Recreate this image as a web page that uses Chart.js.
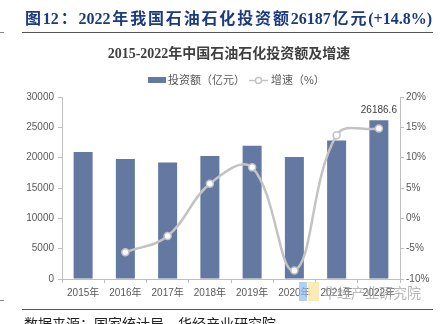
<!DOCTYPE html>
<html>
<head>
<meta charset="utf-8">
<script src="https://cdn.jsdelivr.net/npm/chart.js@4/dist/chart.umd.min.js"></script>
<style>
  html, body { margin: 0; padding: 0; background: #ffffff; }
  #wrap { width: 442px; height: 324px; position: relative; overflow: hidden; }
</style>
</head>
<body>
<div id="wrap"><canvas id="c" width="442" height="324"></canvas></div>
<script>
// 2015-2022 petrochemical investment (100 million yuan) and YoY growth (%)
const years = ['2015年', '2016年', '2017年', '2018年', '2019年', '2020年', '2021年', '2022年'];
const investment = [20950, 19780, 19200, 20280, 21980, 20090, 22810, 26186.6];
const growth = [null, -5.6, -2.9, 5.7, 8.4, -8.6, 13.7, 14.8];
const leftTicks = [0, 5000, 10000, 15000, 20000, 25000, 30000];
const rightTicks = [-10, -5, 0, 5, 10, 15, 20];

const headline = '图12：2022年我国石油石化投资额26187亿元(+14.8%)';
const chartTitle = '2015-2022年中国石油石化投资额及增速';
const legendBar = '投资额（亿元）';
const legendLine = '增速（%）';
const source = '数据来源：国家统计局，华经产业研究院';
const watermark = '华经产业研究院';

const BAR = '#6479a1';
const LINE = '#c3c3c3';
const AXIS = '#bfbfbf';
const TICK_TXT = '#595959';
const SANS = '"Liberation Sans", "Noto Sans CJK SC", sans-serif';

const isWide = ch => ch.charCodeAt(0) > 0x2e80;

const decor = {
  id: 'decor',
  beforeDraw(chart) {
    const ctx = chart.ctx;
    ctx.save();
    // headline: extra space only next to CJK glyphs, spread to the rule width
    ctx.fillStyle = '#1c3a7e';
    ctx.font = 'bold 16px "Liberation Serif", "Noto Sans CJK SC", serif';
    ctx.textBaseline = 'middle';
    ctx.textAlign = 'left';
    const chars = Array.from(headline);
    const hw = ctx.measureText(headline).width;
    let pairs = 0;
    for (let i = 0; i < chars.length - 1; i++) {
      if (isWide(chars[i]) || isWide(chars[i + 1])) pairs++;
    }
    const gap = Math.max(0, (407 - hw) / pairs);
    let hx = 25;
    chars.forEach((ch, i) => {
      ctx.fillText(ch, hx, 20);
      hx += ctx.measureText(ch).width;
      if (i < chars.length - 1 && (isWide(ch) || isWide(chars[i + 1]))) hx += gap;
    });
    // rules
    ctx.strokeStyle = '#555555';
    ctx.lineWidth = 1.2;
    ctx.beginPath();
    ctx.moveTo(22, 32.5); ctx.lineTo(433, 32.5);
    ctx.moveTo(22, 309.5); ctx.lineTo(433, 309.5);
    ctx.stroke();
    ctx.strokeStyle = '#888888';
    ctx.lineWidth = 1;
    ctx.beginPath();
    ctx.moveTo(0, 32.5); ctx.lineTo(4, 32.5);
    ctx.moveTo(0, 300.5); ctx.lineTo(4, 300.5);
    ctx.stroke();
    // chart title
    ctx.fillStyle = '#404040';
    ctx.font = 'bold 14px "Liberation Serif", "Noto Sans CJK SC", serif';
    ctx.textAlign = 'center';
    ctx.fillText(chartTitle, 229, 54);
    // legend
    ctx.font = '11px ' + SANS;
    ctx.textAlign = 'left';
    ctx.fillStyle = BAR;
    ctx.fillRect(148, 77, 18, 6);
    ctx.fillStyle = TICK_TXT;
    ctx.fillText(legendBar, 168, 80.5);
    ctx.strokeStyle = LINE;
    ctx.lineWidth = 1.5;
    ctx.beginPath();
    ctx.moveTo(249, 80.5); ctx.lineTo(268, 80.5);
    ctx.stroke();
    ctx.beginPath();
    ctx.arc(258.5, 80.5, 3, 0, Math.PI * 2);
    ctx.fillStyle = '#ffffff';
    ctx.fill();
    ctx.stroke();
    ctx.fillStyle = TICK_TXT;
    ctx.fillText(legendLine, 271, 80.5);
    // source note (partly below the frame)
    ctx.fillStyle = '#222222';
    ctx.font = '14px "Noto Sans CJK SC", sans-serif';
    ctx.textBaseline = 'top';
    ctx.fillText(source, 24, 317);
    ctx.restore();
  },
  afterDraw(chart) {
    const ctx = chart.ctx;
    ctx.save();
    // value label above the last bar
    const meta = chart.getDatasetMeta(1);
    const last = meta.data[meta.data.length - 1];
    ctx.fillStyle = '#404040';
    ctx.font = '10px ' + SANS;
    ctx.textAlign = 'center';
    ctx.textBaseline = 'middle';
    ctx.fillText(String(investment[investment.length - 1]), last.x, last.y - 10);
    // watermark
    ctx.globalAlpha = 0.7;
    ctx.fillStyle = '#8fbcf0';
    ctx.fillRect(299, 282, 8, 19);
    ctx.fillStyle = '#fbe39a';
    ctx.fillRect(308, 282, 11, 19);
    ctx.globalAlpha = 0.75;
    ctx.fillStyle = '#a0a0a0';
    ctx.font = '14px "Noto Sans CJK SC", sans-serif';
    ctx.textAlign = 'left';
    ctx.fillText(watermark, 323, 293);
    ctx.restore();
  }
};

new Chart(document.getElementById('c'), {
  data: {
    labels: years,
    datasets: [
      {
        type: 'line',
        label: legendLine,
        data: growth,
        yAxisID: 'y1',
        order: 0,
        borderColor: LINE,
        borderWidth: 2.5,
        tension: 0.4,
        pointRadius: 3.5,
        pointBackgroundColor: '#ffffff',
        pointBorderColor: LINE,
        pointBorderWidth: 1.5,
        spanGaps: false
      },
      {
        type: 'bar',
        label: legendBar,
        data: investment,
        yAxisID: 'y',
        order: 1,
        backgroundColor: BAR,
        categoryPercentage: 1,
        barPercentage: 0.45
      }
    ]
  },
  options: {
    responsive: false,
    animation: false,
    layout: { padding: { top: 97, left: 0, right: 0, bottom: 0 } },
    plugins: { legend: { display: false }, tooltip: { enabled: false }, title: { display: false } },
    scales: {
      x: {
        offset: true,
        grid: { display: true, drawOnChartArea: false, offset: true, color: AXIS, tickLength: 4 },
        border: { color: AXIS },
        ticks: { color: TICK_TXT, font: { size: 10, family: SANS }, padding: 4, maxRotation: 0 },
        afterFit(s) { s.height = 45; }
      },
      y: {
        position: 'left',
        min: 0, max: 30000,
        afterBuildTicks(s) { s.ticks = leftTicks.map(v => ({ value: v })); },
        grid: { display: true, drawOnChartArea: false, color: AXIS, tickLength: 4 },
        border: { color: AXIS },
        ticks: { color: TICK_TXT, font: { size: 10, family: SANS }, padding: 4, callback: v => String(v) },
        afterFit(s) { s.width = 62; }
      },
      y1: {
        position: 'right',
        min: -10, max: 20,
        afterBuildTicks(s) { s.ticks = rightTicks.map(v => ({ value: v })); },
        grid: { display: true, drawOnChartArea: false, color: AXIS, tickLength: 4 },
        border: { color: AXIS },
        ticks: { color: TICK_TXT, font: { size: 10, family: SANS }, padding: 2, callback: v => v + '%' },
        afterFit(s) { s.width = 42; }
      }
    }
  },
  plugins: [decor]
});
</script>
</body>
</html>
